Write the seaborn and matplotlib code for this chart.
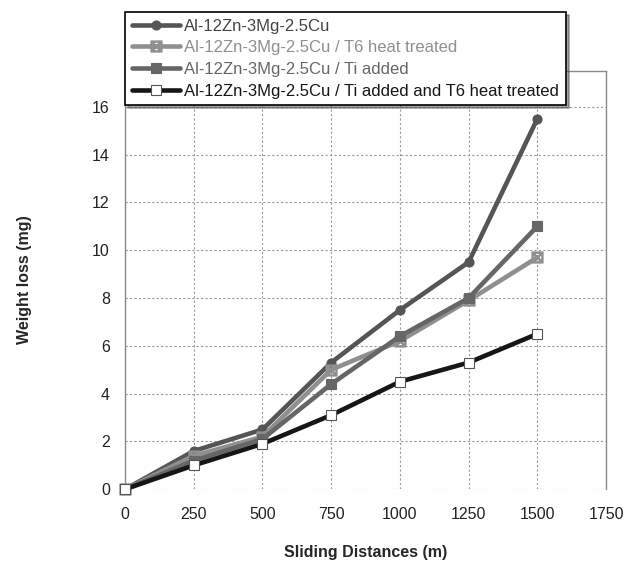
import numpy as np
import pandas as pd
import matplotlib
matplotlib.use("Agg")
import matplotlib.pyplot as plt
import seaborn as sns

# Data
distances = [0, 250, 500, 750, 1000, 1250, 1500]
base_alloy = [0, 1.6, 2.5, 5.3, 7.5, 9.5, 15.5]
t6_treated = [0, 1.4, 2.2, 5.0, 6.2, 7.9, 9.7]
ti_added = [0, 1.2, 2.1, 4.4, 6.4, 8.0, 11.0]
ti_t6 = [0, 1.0, 1.9, 3.1, 4.5, 5.3, 6.5]

labels = [
    "Al-12Zn-3Mg-2.5Cu",
    "Al-12Zn-3Mg-2.5Cu / T6 heat treated",
    "Al-12Zn-3Mg-2.5Cu / Ti added",
    "Al-12Zn-3Mg-2.5Cu / Ti added and T6 heat treated",
]

sns.set_style("white")
plt.rcParams["font.family"] = ["Liberation Sans", "DejaVu Sans"]

fig = plt.figure(figsize=(6.38, 5.63), dpi=100)
ax = fig.add_axes([0.196, 0.131, 0.754, 0.743])

styles = [
    dict(color="#555555", marker="o", markersize=6.5, mfc="#555555", mec="#555555"),
    dict(color="#8f8f8f", marker="$\\boxtimes$", markersize=8, mfc="#8f8f8f", mec="#8f8f8f"),
    dict(color="#666666", marker="s", markersize=6.5, mfc="#666666", mec="#666666"),
    dict(color="#161616", marker="s", markersize=7, mfc="white", mec="#555555"),
]

series = [base_alloy, t6_treated, ti_added, ti_t6]
for vals, lab, st in zip(series, labels, styles):
    sns.lineplot(x=distances, y=vals, ax=ax, label=lab, linewidth=3.3,
                 color=st["color"], marker=st["marker"], markersize=st["markersize"],
                 markerfacecolor=st["mfc"], markeredgecolor=st["mec"],
                 markeredgewidth=0.8, clip_on=False, zorder=3)

ax.set_xlim(0, 1750)
ax.set_ylim(0, 17.5)
ax.set_xticks(np.arange(0, 1751, 250))
ax.set_yticks(np.arange(0, 17, 2))
ax.grid(True, linestyle=(0, (2, 2)), color="#9a9a9a", linewidth=0.8)
for side in ["left", "right", "top"]:
    ax.spines[side].set_color("#8a8a8a")
    ax.spines[side].set_linewidth(1)
ax.spines["bottom"].set_visible(False)
ax.tick_params(axis="both", length=0, labelsize=11.5, colors="#222222")
ax.tick_params(axis="x", pad=13)
ax.tick_params(axis="y", pad=11)

ax.set_xlabel("Sliding Distances (m)", fontsize=11.5, fontweight="bold", labelpad=16)
ax.set_ylabel("Weight loss (mg)", fontsize=11.5, fontweight="bold", labelpad=43)

leg = ax.legend(loc="upper left", bbox_to_anchor=(0.0, 1.141), fontsize=12,
                frameon=True, fancybox=False, shadow=True, handlelength=2.9,
                handletextpad=0.25, borderpad=0.4, labelspacing=0.4,
                borderaxespad=0)
leg.get_frame().set_edgecolor("black")
leg.get_frame().set_linewidth(1.2)
for txt, st in zip(leg.get_texts(), styles):
    txt.set_color(st["color"] if st["color"] != "#555555" else "#444444")

fig.savefig("out.png", dpi=100)
